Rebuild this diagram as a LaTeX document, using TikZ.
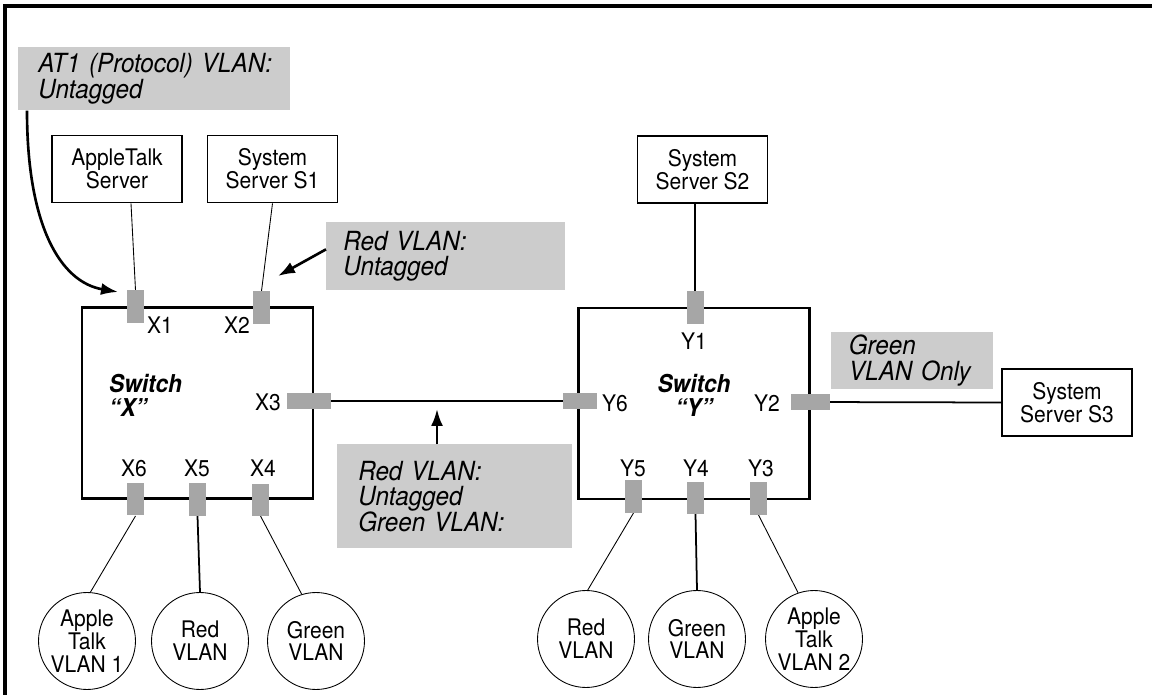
\documentclass[tikz,border=0pt]{standalone}
\usepackage{fontspec}
\setmainfont{TeX Gyre Heros}[FakeStretch=0.92]
\usetikzlibrary{arrows.meta}
\definecolor{portgray}{gray}{0.65}
\definecolor{notegray}{gray}{0.8}
\newcommand{\boxfont}{\fontsize{13}{13}\selectfont}
\newcommand{\notefont}{\fontsize{15}{14.6}\selectfont\itshape}
\newcommand{\swfont}{\fontsize{14}{13.6}\selectfont\bfseries\itshape}

\begin{document}
\begin{tikzpicture}[x=0.02cm, y=-0.02cm,
    srv/.style={draw, line width=1pt, minimum width=2.6cm, minimum height=1.34cm, align=center, inner sep=0pt, font=\boxfont},
    swbox/.style={draw, line width=1.3pt, minimum width=4.62cm, minimum height=3.82cm},
    vprt/.style={fill=portgray, minimum width=0.34cm, minimum height=0.66cm, inner sep=0pt},
    hprt/.style={fill=portgray, minimum width=0.8cm, minimum height=0.32cm, inner sep=0pt},
    plab/.style={font=\boxfont, inner sep=0pt},
    vlan/.style={draw, circle, line width=0.5pt, minimum size=1.94cm, align=center, inner sep=0pt, font=\boxfont},
    note/.style={fill=notegray, anchor=north west, align=left, inner ysep=0pt, font=\notefont},
    wire/.style={line width=0.5pt},
    link/.style={line width=1pt},
    pointer/.style={line width=1.5pt, -{Latex[length=0.34cm,width=0.24cm]}}]
        \useasboundingbox (0,0) rectangle (1152,695);
        \draw[line width=2.3pt] (5,695) -- (5,6) -- (1152,6);

        % switches
        \node[swbox] (swX) at (197.5,403) {};
        \node[swbox] (swY) at (694,403.5) {};
        \node[font=\swfont, align=left, anchor=west] (swXname) at (103,395) {Switch\\“X”};
        \node[font=\swfont, align=center] (swYname) at (694,395) {Switch\\“Y”};

        % servers
        \node[srv] (atsrv) at (117,169) {AppleTalk\\Server};
        \node[srv] (s1) at (272.5,169) {System\\Server S1};
        \node[srv] (s2) at (702.5,169.5) {System\\Server S2};
        \node[srv] (s3) at (1067,402.5) {System\\Server S3};

        % vlans
        \node[vlan] (atx) at (87,641) {Apple\\Talk\\VLAN 1};
        \node[vlan] (redx) at (200,641) {Red\\VLAN};
        \node[vlan] (grnx) at (316,641) {Green\\VLAN};
        \node[vlan] (redy) at (586,639) {Red\\VLAN};
        \node[vlan] (grny) at (697,639) {Green\\VLAN};
        \node[vlan] (aty) at (814,639) {Apple\\Talk\\VLAN 2};

        % cables
        \draw[wire] ([xshift=0.28cm]atsrv.south) -- (135.5,290);
        \draw[wire] (s1.south) -- (261.5,291);
        \draw[link] ([xshift=-0.15cm]s2.south) -- (695,291);
        \draw[link] (309,401) -- (580,401);
        \draw[link] (810.5,402) -- (s3.west);
        \draw[wire] (135.5,516) -- (atx.86);
        \draw[link] (197.5,516) -- (redx.north);
        \draw[wire] (260.5,516) -- (grnx.107);
        \draw[wire] (633.5,513) -- (redy.88);
        \draw[link] (695.5,514) -- (grny.north);
        \draw[wire] (758.5,515) -- (aty.109);

        % ports
        \node[vprt] (X1) at (135.5,306.5) {};
        \node[vprt] (X2) at (261.5,307.5) {};
        \node[hprt, minimum width=0.88cm] (X3) at (309,401) {};
        \node[vprt] (X4) at (260.5,500) {};
        \node[vprt] (X5) at (197.5,499.5) {};
        \node[vprt] (X6) at (135.5,499) {};
        \node[vprt] (Y1) at (695,307.5) {};
        \node[hprt, minimum width=0.78cm] (Y2) at (810.5,402) {};
        \node[vprt] (Y3) at (758.5,498.5) {};
        \node[vprt] (Y4) at (695.5,498) {};
        \node[vprt] (Y5) at (633.5,496.5) {};
        \node[hprt, minimum width=0.68cm] (Y6) at (580,401) {};
        \node[plab] (tX1) at (160,325) {X1};
        \node[plab] (tX2) at (237,325) {X2};
        \node[plab] (tX3) at (268,402) {X3};
        \node[plab] (tX4) at (263,468) {X4};
        \node[plab] (tX5) at (197,468) {X5};
        \node[plab] (tX6) at (134,468) {X6};
        \node[plab] (tY1) at (694,341) {Y1};
        \node[plab] (tY2) at (767,403) {Y2};
        \node[plab] (tY3) at (761,468) {Y3};
        \node[plab] (tY4) at (696,468) {Y4};
        \node[plab] (tY5) at (633,468) {Y5};
        \node[plab] (tY6) at (615,403) {Y6};

        % notes
        \node[note, text width=4.64cm, inner xsep=0.4cm, minimum height=1.26cm] (atnote) at (18,47) {\mbox{AT1 (Protocol) VLAN:}\\Untagged};
        \node[note, text width=4.1cm, inner xsep=0.34cm, minimum height=1.36cm] (rednote) at (326,222) {Red VLAN:\\Untagged};
        \node[note, text width=3.86cm, inner xsep=0.42cm, minimum height=2.08cm] (midnote) at (337,444) {Red VLAN:\\Untagged\\Green VLAN:};
        \node[note, text width=2.54cm, inner xsep=0.35cm, minimum height=1.14cm] (grnnote) at (831,332) {Green\\VLAN Only};

        \coordinate (x1tip) at (118,292);
        \coordinate (x2tip) at (278,276);
        \coordinate (linktip) at (437,409);
        \draw[pointer] ([xshift=0.18cm]atnote.south west) .. controls (27,225) and (60,282) .. (x1tip);
        \draw[pointer] ([yshift=0.14cm]rednote.west) -- (x2tip);
        \draw[pointer] (midnote.north -| linktip) -- (linktip);
      \end{tikzpicture}
\end{document}
